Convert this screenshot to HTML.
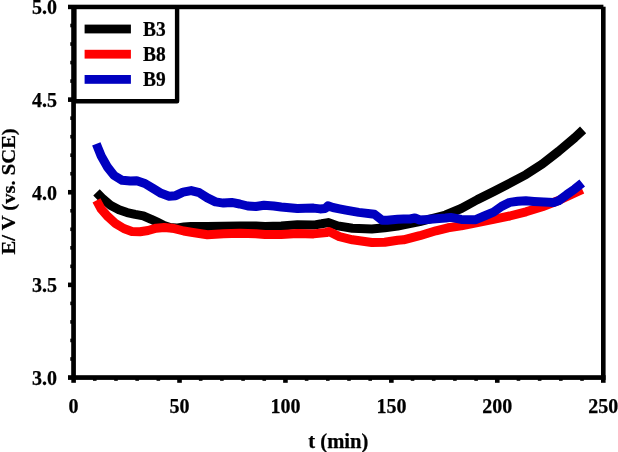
<!DOCTYPE html>
<html><head><meta charset="utf-8"><title>chart</title>
<style>html,body{margin:0;padding:0;background:#fff;}body{width:618px;height:452px;position:relative;overflow:hidden;font-family:"Liberation Serif",serif;}</style>
</head><body>
<svg width="618" height="452" viewBox="0 0 618 452" style="position:absolute;left:0;top:0;will-change:transform">
<rect x="0" y="0" width="618" height="452" fill="#fff"/>
<g fill="none" stroke-width="9" stroke-linejoin="round" stroke-linecap="butt">
<path d="M96.5 192.3 L102.8 198.8 L110.9 205.6 L119.0 209.8 L127.1 212.6 L135.2 214.4 L143.3 215.9 L151.3 219.3 L157.8 222.4 L164.0 225.5 L170.0 227.6 L176.0 228.1 L184.0 227.0 L191.0 226.4 L207.0 226.5 L223.0 226.3 L240.0 226.0 L256.0 226.0 L265.0 226.4 L281.2 225.9 L297.4 224.8 L313.5 225.1 L321.6 223.8 L328.1 222.6 L337.8 225.9 L352.4 228.3 L371.8 229.0 L384.7 227.8 L397.7 226.0 L403.5 224.8 L419.7 221.6 L435.9 217.5 L445.6 215.0 L461.2 208.5 L477.4 199.6 L493.5 191.6 L509.7 183.3 L526.0 174.6 L542.3 164.0 L558.5 151.4 L574.7 137.7 L583.1 129.9" stroke="#000"/>
<path d="M96.5 200.4 L101.2 209.1 L107.7 216.4 L115.7 223.7 L123.8 228.5 L131.9 231.5 L140.0 231.8 L148.1 230.5 L156.2 228.2 L164.3 227.4 L172.4 228.2 L183.7 231.0 L191.2 232.2 L207.4 234.8 L223.5 233.8 L239.7 233.2 L255.9 233.8 L265.0 234.6 L281.2 234.6 L297.4 233.6 L313.5 233.9 L326.5 232.5 L328.9 231.5 L339.4 236.6 L352.4 239.8 L371.8 242.5 L384.7 242.2 L397.7 240.2 L403.5 239.8 L419.7 235.7 L435.9 230.8 L448.0 227.8 L461.2 225.9 L477.4 222.6 L493.5 219.4 L509.7 216.0 L526.0 211.8 L542.3 206.7 L558.5 200.5 L574.7 193.0 L582.3 189.4" stroke="#ff0000"/>
<path d="M96.3 143.9 L101.2 156.0 L107.7 167.4 L114.1 175.5 L122.2 180.3 L130.3 181.1 L136.8 180.8 L144.9 183.5 L153.0 188.4 L161.1 193.3 L169.1 196.2 L175.6 195.7 L183.1 192.2 L191.2 190.6 L199.3 192.7 L207.4 197.9 L215.5 201.9 L223.5 203.1 L231.6 202.4 L239.7 204.0 L247.8 206.0 L255.9 206.5 L264.0 205.2 L273.7 206.0 L281.2 207.0 L297.4 208.6 L313.5 208.1 L320.0 208.9 L325.2 208.5 L328.0 205.9 L332.9 207.5 L339.4 208.8 L345.9 210.1 L358.8 212.4 L374.4 214.2 L378.3 217.2 L382.1 220.2 L387.3 220.2 L397.7 219.2 L403.5 219.0 L410.0 219.0 L414.9 218.0 L419.7 220.0 L427.0 219.6 L435.9 218.7 L445.6 218.0 L450.7 217.4 L461.2 219.4 L475.7 219.7 L485.5 215.5 L493.5 212.1 L501.6 206.4 L509.7 202.4 L517.8 201.3 L525.9 200.8 L534.0 201.4 L543.7 202.0 L553.7 202.4 L558.5 200.8 L566.6 194.8 L574.7 189.1 L582.2 183.1" stroke="#0000c0"/>
</g>
<g fill="#000">
<rect x="68" y="4.7" width="535.4" height="4.5"/>
<rect x="71.2" y="7" width="4.7" height="370"/>
<rect x="68" y="375.2" width="537.6" height="4.7"/>
<rect x="601" y="6.7" width="4.6" height="376.1"/>
<rect x="68" y="97.33" width="6" height="4.6"/>
<rect x="68" y="189.95" width="6" height="4.6"/>
<rect x="68" y="282.57" width="6" height="4.6"/>
<rect x="71.30" y="376" width="4.6" height="6.8"/>
<rect x="177.22" y="376" width="4.6" height="6.8"/>
<rect x="283.14" y="376" width="4.6" height="6.8"/>
<rect x="389.06" y="376" width="4.6" height="6.8"/>
<rect x="494.98" y="376" width="4.6" height="6.8"/>
<rect x="70.3" y="23.72" width="3" height="3.6" />
<rect x="70.3" y="42.25" width="3" height="3.6" />
<rect x="70.3" y="60.77" width="3" height="3.6" />
<rect x="70.3" y="79.30" width="3" height="3.6" />
<rect x="70.3" y="116.35" width="3" height="3.6" />
<rect x="70.3" y="134.88" width="3" height="3.6" />
<rect x="70.3" y="153.40" width="3" height="3.6" />
<rect x="70.3" y="171.93" width="3" height="3.6" />
<rect x="70.3" y="208.97" width="3" height="3.6" />
<rect x="70.3" y="227.50" width="3" height="3.6" />
<rect x="70.3" y="246.02" width="3" height="3.6" />
<rect x="70.3" y="264.55" width="3" height="3.6" />
<rect x="70.3" y="301.60" width="3" height="3.6" />
<rect x="70.3" y="320.12" width="3" height="3.6" />
<rect x="70.3" y="338.65" width="3" height="3.6" />
<rect x="70.3" y="357.18" width="3" height="3.6" />
<rect x="92.98" y="377" width="3.6" height="3.8" />
<rect x="114.17" y="377" width="3.6" height="3.8" />
<rect x="135.35" y="377" width="3.6" height="3.8" />
<rect x="156.54" y="377" width="3.6" height="3.8" />
<rect x="198.90" y="377" width="3.6" height="3.8" />
<rect x="220.09" y="377" width="3.6" height="3.8" />
<rect x="241.27" y="377" width="3.6" height="3.8" />
<rect x="262.46" y="377" width="3.6" height="3.8" />
<rect x="304.82" y="377" width="3.6" height="3.8" />
<rect x="326.01" y="377" width="3.6" height="3.8" />
<rect x="347.19" y="377" width="3.6" height="3.8" />
<rect x="368.38" y="377" width="3.6" height="3.8" />
<rect x="410.74" y="377" width="3.6" height="3.8" />
<rect x="431.93" y="377" width="3.6" height="3.8" />
<rect x="453.11" y="377" width="3.6" height="3.8" />
<rect x="474.30" y="377" width="3.6" height="3.8" />
<rect x="516.66" y="377" width="3.6" height="3.8" />
<rect x="537.85" y="377" width="3.6" height="3.8" />
<rect x="559.03" y="377" width="3.6" height="3.8" />
<rect x="580.22" y="377" width="3.6" height="3.8" />
<path d="M74.4 7 L74.4 101.3 L177.1 101.3 L177.1 7" fill="none" stroke="#000" stroke-width="4.4" stroke-linejoin="round"/>
</g>
<rect x="84.6" y="24.6" width="46.3" height="8.8" fill="#000"/>
<rect x="84.6" y="49.8" width="46.3" height="8.8" fill="#ff0000"/>
<rect x="84.6" y="75" width="46.3" height="8.8" fill="#0000c0"/>
<g font-family="'Liberation Serif', serif" font-weight="bold" font-size="20px" fill="#000" stroke="#000" stroke-width="0.25">
<text transform="translate(143.0,35.5) scale(0.97,1)">B3</text>
<text transform="translate(143.0,60.9) scale(0.97,1)">B8</text>
<text transform="translate(143.0,86.3) scale(0.97,1)">B9</text>
<text x="57" y="13.9" text-anchor="end">5.0</text>
<text x="57" y="106.5" text-anchor="end">4.5</text>
<text x="57" y="199.8" text-anchor="end">4.0</text>
<text x="57" y="292.3" text-anchor="end">3.5</text>
<text x="57" y="385.4" text-anchor="end">3.0</text>
<text x="73.6" y="412.6" text-anchor="middle">0</text>
<text x="179.5" y="412.6" text-anchor="middle">50</text>
<text x="285.4" y="412.6" text-anchor="middle">100</text>
<text x="391.4" y="412.6" text-anchor="middle">150</text>
<text x="497.3" y="412.6" text-anchor="middle">200</text>
<text x="603.2" y="412.6" text-anchor="middle">250</text>
<text x="338.3" y="447.7" text-anchor="middle" font-size="20.6px">t (min)</text>
<text transform="translate(15.4,191.4) rotate(-90) scale(1,0.92)" text-anchor="middle" font-size="20.6px">E/ V (vs. SCE)</text>
</g>
</svg>
</body></html>
